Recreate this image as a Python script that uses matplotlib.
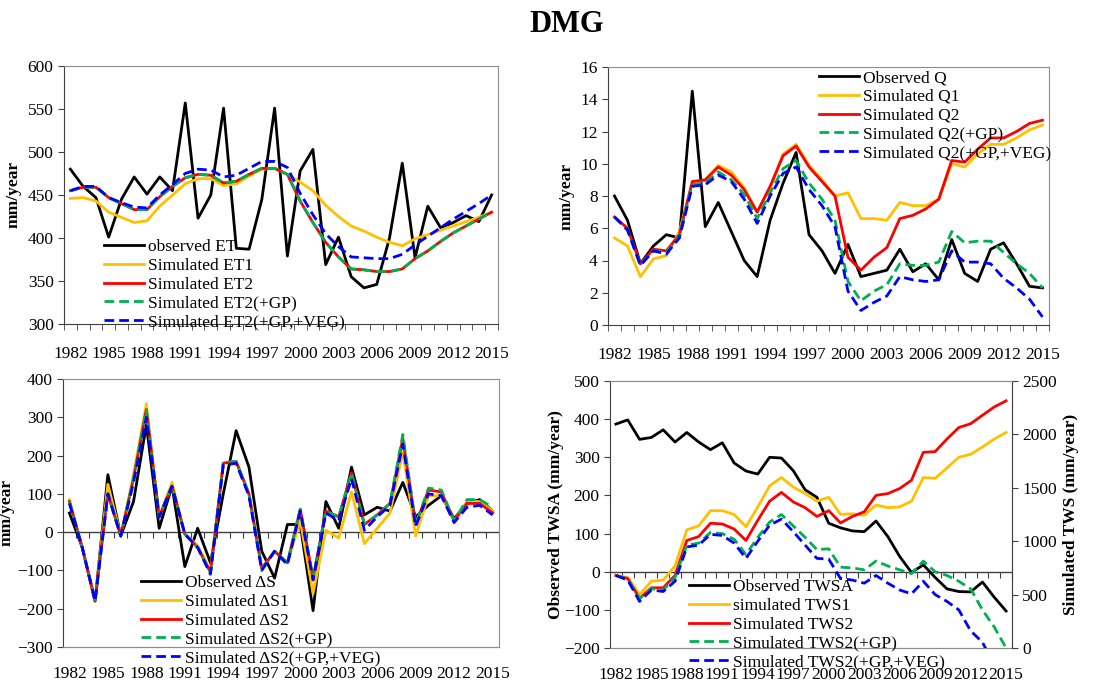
import numpy as np
import matplotlib
matplotlib.use('Agg')
import matplotlib.pyplot as plt
from matplotlib.lines import Line2D

plt.rcParams['font.family'] = ['Liberation Serif', 'DejaVu Serif']
plt.rcParams['font.size'] = 11

years = np.arange(1982, 2016)
label_years = np.arange(1982, 2016, 3)

# ET (mm/year)
et_obs = [480, 460, 447, 401, 445, 471, 451, 471, 455, 557, 423, 450, 551, 388, 387, 445, 551,
          379, 478, 503, 369, 401, 355, 342, 346, 400, 487, 377, 437, 412, 418, 426, 419, 450]
et_sim1 = [446, 447, 443, 430, 424, 418, 420, 437, 450, 463, 469, 469, 461, 463, 472, 480, 481,
           474, 465, 455, 438, 425, 414, 408, 401, 395, 391, 399, 404, 409, 414, 419, 424, 430]
et_sim2 = [455, 459, 459, 447, 440, 433, 433, 448, 460, 470, 474, 473, 464, 466, 474, 481, 481,
           474, 443, 418, 395, 378, 364, 363, 361, 361, 364, 376, 385, 396, 406, 414, 422, 430]
et_gp = [455, 459, 459, 447, 440, 433, 433, 448, 460, 470, 474, 473, 464, 466, 474, 481, 481,
         474, 443, 418, 395, 378, 364, 363, 361, 361, 364, 376, 385, 396, 406, 414, 422, 430]
et_veg = [455, 460, 460, 447, 441, 436, 435, 450, 462, 475, 480, 479, 471, 473, 481, 489, 489,
          482, 452, 427, 405, 390, 378, 377, 376, 376, 381, 392, 402, 412, 422, 431, 440, 450]

# Q (mm/year)
q_obs = [8.0, 6.5, 3.8, 4.9, 5.6, 5.4, 14.5, 6.1, 7.6, 5.8, 4.0, 3.0, 6.5, 8.8, 10.7, 5.6, 4.6,
         3.2, 5.0, 3.0, 3.2, 3.4, 4.7, 3.3, 3.8, 2.8, 5.3, 3.2, 2.7, 4.7, 5.1, 3.8, 2.4, 2.3]
q_sim1 = [5.4, 4.9, 3.0, 4.1, 4.3, 5.8, 8.8, 9.0, 9.9, 9.5, 8.5, 7.0, 8.5, 10.6, 11.2, 9.9, 9.0,
          8.0, 8.2, 6.6, 6.6, 6.5, 7.6, 7.4, 7.4, 7.8, 10.0, 9.8, 10.6, 11.2, 11.2, 11.6, 12.1, 12.4]
q_sim2 = [6.7, 6.0, 3.8, 4.7, 4.6, 5.6, 8.9, 9.0, 9.8, 9.3, 8.4, 7.0, 8.6, 10.5, 11.1, 9.8, 8.9,
          8.0, 4.2, 3.4, 4.2, 4.8, 6.6, 6.8, 7.2, 7.8, 10.2, 10.1, 10.9, 11.6, 11.6, 12.0, 12.5, 12.7]
q_gp = [6.7, 5.9, 3.7, 4.6, 4.5, 5.5, 8.7, 8.8, 9.5, 9.0, 8.1, 6.6, 8.2, 9.7, 10.2, 8.8, 7.8,
        6.5, 2.7, 1.5, 2.1, 2.5, 3.8, 3.7, 3.7, 3.9, 5.8, 5.1, 5.2, 5.2, 4.5, 3.8, 3.2, 2.3]
q_veg = [6.7, 5.9, 3.7, 4.6, 4.4, 5.4, 8.6, 8.7, 9.3, 8.9, 7.8, 6.3, 8.0, 9.4, 9.8, 8.4, 7.4,
         6.1, 2.1, 0.9, 1.4, 1.8, 3.0, 2.8, 2.7, 2.8, 4.6, 3.9, 3.9, 3.8, 2.9, 2.3, 1.6, 0.5]

# Delta S (mm/year)
ds_obs = [50, -40, -180, 150, -10, 80, 280, 10, 120, -90, 10, -80, 100, 265, 170, -50, -120,
          20, 20, -205, 80, 10, 170, 45, 65, 55, 130, 40, 70, 95, 35, 75, 85, 55]
ds_sim1 = [85, -40, -180, 125, -10, 150, 335, 40, 130, -5, -35, -100, 180, 185, 100, -95, -50,
           -80, 30, -160, 5, -15, 105, -30, 10, 50, 210, -10, 95, 95, 30, 80, 80, 55]
ds_sim2 = [80, -40, -180, 100, -10, 140, 320, 40, 120, -5, -40, -105, 180, 185, 100, -95, -50,
           -80, 60, -120, 55, 40, 155, 20, 45, 75, 245, 20, 110, 105, 30, 75, 75, 50]
ds_gp = [80, -40, -180, 100, -10, 140, 320, 40, 120, -5, -40, -105, 180, 185, 100, -95, -50,
         -80, 60, -120, 55, 40, 155, 20, 45, 75, 255, 20, 115, 110, 30, 85, 85, 65]
ds_veg = [75, -40, -180, 100, -10, 130, 300, 40, 120, -5, -40, -110, 175, 180, 95, -100, -50,
          -85, 55, -125, 50, 30, 140, 5, 40, 70, 230, 15, 100, 95, 25, 65, 70, 45]

# TWS: observed anomaly (left axis) and simulated storage (right axis)
twsa_obs = [387, 398, 347, 352, 372, 340, 365, 340, 320, 338, 285, 264, 256, 300, 298, 265, 215,
            195, 127, 115, 107, 105, 133, 92, 40, -2, 18, -15, -45, -52, -53, -27, -67, -103]
tws_sim1 = [679, 661, 500, 625, 636, 768, 1107, 1143, 1286, 1286, 1250, 1136, 1321, 1518, 1596,
            1507, 1446, 1375, 1411, 1250, 1257, 1243, 1339, 1314, 1321, 1375, 1596, 1589, 1686,
            1786, 1814, 1882, 1957, 2018]
tws_sim2 = [679, 650, 464, 564, 564, 679, 1007, 1043, 1168, 1161, 1114, 1007, 1196, 1375, 1457,
            1368, 1314, 1232, 1286, 1171, 1232, 1275, 1429, 1446, 1493, 1571, 1832, 1839, 1957,
            2064, 2100, 2179, 2257, 2314]
tws_gp = [679, 643, 464, 554, 543, 661, 964, 982, 1082, 1071, 1018, 875, 1036, 1179, 1250, 1143,
          1036, 921, 929, 757, 750, 732, 814, 768, 732, 696, 814, 714, 679, 625, 554, 357, 196, 0]
tws_veg = [679, 636, 436, 543, 529, 625, 946, 964, 1064, 1054, 982, 839, 1000, 1150, 1207, 1089,
           964, 839, 832, 650, 636, 607, 679, 607, 543, 507, 625, 500, 436, 357, 161, 54, -161, -357]

C_OBS = 'black'
C_S1 = '#FFC000'
C_S2 = '#FF0000'
C_GP = '#00B050'
C_VEG = '#0000FF'
LW = 2.0
DASH = (3.5, 1.8)

W, H = 1118, 686
fig = plt.figure(figsize=(W / 100, H / 100), dpi=100)


def px_axes(l, t, r, b):
    return fig.add_axes([l / W, 1 - b / H, (r - l) / W, (b - t) / H])


def style(ax, zero_line=False):
    for s in ['top', 'right']:
        ax.spines[s].set_color('#8c8c8c')
    ax.spines['left'].set_color('#404040')
    ax.spines['bottom'].set_color('#404040' if not zero_line else '#8c8c8c')
    ax.set_xlim(1981.5, 2015.5)
    ax.tick_params(axis='y', direction='out', length=4, color='#404040', labelsize=12.5)
    if zero_line:
        ax.axhline(0, color='#404040', lw=1.0, zorder=1)
        ax.set_xticks(np.arange(1981.5, 2016, 1.0))
        ax.tick_params(axis='x', length=0, labelbottom=False)
        # tick marks hanging from the zero line
        sec = ax.secondary_xaxis(0, transform=ax.transData)
        sec.set_xticks(np.arange(1981.5, 2016, 1.0))
        sec.tick_params(axis='x', direction='out', length=4, color='#404040', labelbottom=False)
        sec.spines['bottom'].set_visible(False)
        lab = ax.secondary_xaxis(0.0)
        lab.set_xticks(label_years)
        lab.tick_params(axis='x', length=0, pad=14, labelsize=12.5)
        lab.spines['bottom'].set_color('#8c8c8c')
    else:
        ax.set_xticks(label_years)
        ax.set_xticks(np.arange(1981.5, 2016, 1.0), minor=True)
        ax.tick_params(axis='x', which='major', length=0, pad=16, labelsize=12.5)
        ax.tick_params(axis='x', which='minor', direction='out', length=4, color='#404040')


def legend(ax, handles, labels, x, y):
    ax.legend(handles, labels, loc='upper left', bbox_to_anchor=(x / W, 1 - y / H),
              bbox_transform=fig.transFigure, frameon=False, borderpad=0, borderaxespad=0,
              handlelength=2.3, handletextpad=0.25, labelspacing=0.15, fontsize=12.5)


def handles():
    return [Line2D([], [], color=C_OBS, lw=LW), Line2D([], [], color=C_S1, lw=LW),
            Line2D([], [], color=C_S2, lw=LW), Line2D([], [], color=C_GP, lw=LW, dashes=DASH),
            Line2D([], [], color=C_VEG, lw=LW, dashes=DASH)]


def draw(ax, obs, s1, s2, gp, veg):
    ax.plot(years, obs, color=C_OBS, lw=LW)
    ax.plot(years, s1, color=C_S1, lw=LW)
    ax.plot(years, s2, color=C_S2, lw=LW)
    ax.plot(years, gp, color=C_GP, lw=LW, dashes=DASH)
    ax.plot(years, veg, color=C_VEG, lw=LW, dashes=DASH)


ylab = dict(fontsize=12.5, fontweight='bold')

# ET panel
ax1 = px_axes(64, 66, 498, 324)
draw(ax1, et_obs, et_sim1, et_sim2, et_gp, et_veg)
ax1.set_ylim(300, 600)
ax1.set_yticks(np.arange(300, 601, 50))
style(ax1)
ax1.set_ylabel('mm/year', labelpad=4, **ylab)
legend(ax1, handles(), ['observed ET', 'Simulated ET1', 'Simulated ET2',
                        'Simulated ET2(+GP)', 'Simulated ET2(+GP,+VEG)'], 104, 239)

# Q panel
ax2 = px_axes(608, 67, 1049, 325)
draw(ax2, q_obs, q_sim1, q_sim2, q_gp, q_veg)
ax2.set_ylim(0, 16)
ax2.set_yticks(np.arange(0, 17, 2))
style(ax2)
ax2.set_ylabel('mm/year', labelpad=4, **ylab)
legend(ax2, handles(), ['Observed Q', 'Simulated Q1', 'Simulated Q2',
                        'Simulated Q2(+GP)', 'Simulated Q2(+GP,+VEG)'], 819, 70)

# Delta S panel
ax3 = px_axes(63, 379, 499, 647)
draw(ax3, ds_obs, ds_sim1, ds_sim2, ds_gp, ds_veg)
ax3.set_ylim(-300, 400)
ax3.set_yticks(np.arange(-300, 401, 100))
style(ax3, zero_line=True)
ax3.set_ylabel('mm/year', labelpad=2, **ylab)
legend(ax3, handles(), ['Observed \u0394S', 'Simulated \u0394S1', 'Simulated \u0394S2',
                        'Simulated \u0394S2(+GP)', 'Simulated \u0394S2(+GP,+VEG)'], 141, 575)

# TWS panel
ax4 = px_axes(610, 381, 1012, 648)
ax4.plot(years, twsa_obs, color=C_OBS, lw=LW)
ax4.set_ylim(-200, 500)
ax4.set_yticks(np.arange(-200, 501, 100))
style(ax4, zero_line=True)
ax4.set_ylabel('Observed TWSA (mm/year)', labelpad=0, **ylab)
ax4r = ax4.twinx()
ax4r.plot(years, tws_sim1, color=C_S1, lw=LW)
ax4r.plot(years, tws_sim2, color=C_S2, lw=LW)
ax4r.plot(years, tws_gp, color=C_GP, lw=LW, dashes=DASH)
ax4r.plot(years, tws_veg, color=C_VEG, lw=LW, dashes=DASH)
ax4r.set_ylim(0, 2500)
ax4r.set_yticks(np.arange(0, 2501, 500))
ax4r.tick_params(axis='y', direction='out', length=4, color='#404040', labelsize=12.5)
ax4r.spines['right'].set_color('#404040')
ax4r.spines['top'].set_color('#8c8c8c')
ax4r.spines['left'].set_visible(False)
ax4r.spines['bottom'].set_visible(False)
ax4r.set_ylabel('Simulated TWS (mm/year)', labelpad=4, **ylab)
legend(ax4r, handles(), ['Observed TWSA', 'simulated TWS1', 'Simulated TWS2',
                         'Simulated TWS2(+GP)', 'Simulated TWS2(+GP,+VEG)'], 689, 579)

fig.text(567 / W, 1 - 24 / H, 'DMG', ha='center', va='center', fontsize=22, fontweight='bold')

fig.savefig('out.png', dpi=100)
